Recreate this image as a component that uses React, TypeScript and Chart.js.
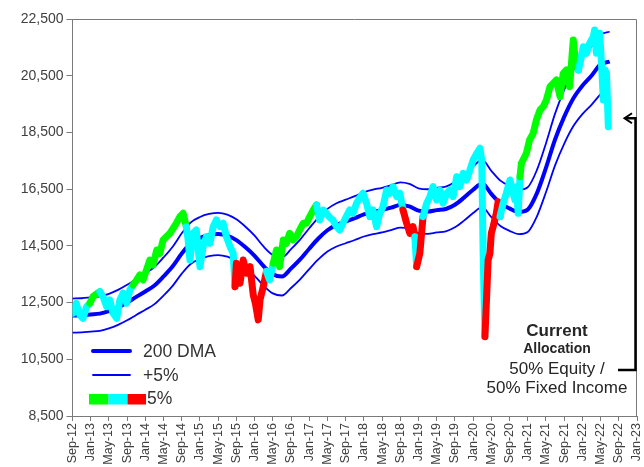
import React, { useEffect, useRef } from 'react';
import { Chart, registerables } from 'chart.js';

Chart.register(...registerables);

// ---- Data -----------------------------------------------------------------
// x values are months since Sep-2012
const xTickLabels = [
  'Sep-12', 'Jan-13', 'May-13', 'Sep-13', 'Jan-14', 'May-14', 'Sep-14', 'Jan-15',
  'May-15', 'Sep-15', 'Jan-16', 'May-16', 'Sep-16', 'Jan-17', 'May-17', 'Sep-17',
  'Jan-18', 'May-18', 'Sep-18', 'Jan-19', 'May-19', 'Sep-19', 'Jan-20', 'May-20',
  'Sep-20', 'Jan-21', 'May-21', 'Sep-21', 'Jan-22', 'May-22', 'Sep-22', 'Jan-23',
];

const bandMonths = [
  0, 2, 4, 6, 8, 10, 12, 14, 16, 18, 20, 22, 24, 26, 28, 30, 32, 34, 36, 38,
  40, 42, 44, 46, 48, 50, 52, 54, 56, 58, 60, 62, 64, 66, 68, 70, 72, 74, 76, 78,
  80, 82, 84, 86, 88, 90, 92, 94, 96, 98, 100, 102, 104, 106, 108, 110, 112, 114, 116, 118,
];

const dma200 = [
  12040, 12050, 12080, 12110, 12200, 12330, 12500, 12700, 12890, 13100,
  13420, 13780, 14230, 14600, 14780, 14880, 14920, 14860, 14700, 14450,
  14150, 13780, 13500, 13420, 13700, 14020, 14400, 14760, 15050, 15240,
  15360, 15480, 15610, 15700, 15760, 15850, 15940, 15890, 15740, 15710,
  15760, 15800, 15950, 16200, 16480, 16700, 16330, 16000, 15820, 15700,
  15780, 16350, 17250, 18250, 19050, 19700, 20150, 20500, 20900, 21000,
];

const upper5 = [
  12642, 12653, 12684, 12716, 12810, 12947, 13125, 13335, 13535, 13755,
  14091, 14469, 14942, 15330, 15519, 15624, 15666, 15603, 15435, 15173,
  14858, 14469, 14175, 14091, 14385, 14721, 15120, 15498, 15803, 16002,
  16128, 16254, 16391, 16485, 16548, 16643, 16737, 16685, 16527, 16496,
  16548, 16590, 16748, 17010, 17304, 17535, 17147, 16800, 16611, 16485,
  16569, 17168, 18113, 19163, 20003, 20685, 21158, 21525, 21945, 22050,
];

const lower5 = [
  11438, 11448, 11476, 11505, 11590, 11714, 11875, 12065, 12246, 12445,
  12749, 13091, 13519, 13870, 14041, 14136, 14174, 14117, 13965, 13728,
  13443, 13091, 12825, 12749, 13015, 13319, 13680, 14022, 14298, 14478,
  14592, 14706, 14830, 14915, 14972, 15058, 15143, 15096, 14953, 14925,
  14972, 15010, 15153, 15390, 15656, 15865, 15514, 15200, 15029, 14915,
  14991, 15533, 16388, 17338, 18098, 18715, 19143, 19475, 19855,
];

const priceMonths = [
  0.1, 0.8, 1.6, 2.3, 3.1, 3.8, 4.5, 6.0, 6.7, 7.5, 8.2, 8.9, 9.7, 10.4, 11.1, 11.9, 12.6, 13.3,
  14.1, 14.8, 15.5, 17.0, 17.7, 18.5, 19.2, 19.9, 21.4, 22.1, 22.8, 23.6, 24.3, 25.0,
  25.4, 25.8, 26.5, 27.2, 28.0, 28.7, 29.4, 30.2, 30.9, 31.6, 32.4, 33.1, 33.8, 34.6, 35.3, 35.7,
  36.0, 36.8, 37.5, 38.2, 39.0, 39.7, 40.2, 40.8, 41.2, 41.9, 42.6,
  43.3, 44.1,
  44.8, 45.5, 46.3, 47.0, 47.7, 48.5, 49.2, 49.9, 50.7, 51.4, 52.1, 52.9, 53.6,
  54.3, 55.1, 55.8, 56.5, 57.2, 58.0, 58.7, 59.4, 60.2, 60.9, 61.6, 62.4, 63.1, 63.8, 64.6,
  65.3, 66.0, 66.8, 67.5, 68.2, 69.0, 69.7, 70.4, 71.2, 71.9, 72.6,
  73.4, 74.1, 74.8, 75.2, 75.6, 76.3, 77.0,
  77.8, 78.5, 79.2, 80.0, 80.7, 81.4, 82.2, 82.9, 83.6, 84.4, 85.1, 85.8, 86.6, 87.3, 88.0,
  88.8, 89.5, 89.9, 90.2, 90.6,
  91.0, 91.3, 91.7, 92.0, 92.4, 93.1, 93.5, 93.9,
  94.6, 95.3, 96.1, 96.8, 97.2, 97.5, 97.9, 98.3,
  98.6, 99.7, 100.4, 101.2, 101.9, 102.7, 103.4, 104.1, 104.9, 105.6, 106.3, 107.1, 107.8,
  108.5, 109.2, 110.0, 110.3, 111.1,
  111.5, 112.2, 112.9, 113.6, 114.4, 114.7, 115.1, 115.8, 116.2, 116.6, 117.0, 117.3, 117.7,
];

const priceValues = [
  12123, 12475, 12063, 11946, 12356, 12475, 12709, 12885, 12709, 12356, 12592, 12123, 11946, 12592, 12828, 12475, 12945, 13121,
  13297, 13474, 13297, 14002, 13826, 14355, 14238, 14708, 14943, 15120, 15296, 15530, 15648, 15177,
  14708, 14002, 14943, 15060, 13767, 14472, 14824, 14591, 15177, 15413, 15177, 15296, 14824, 14472, 14238, 13061,
  13885, 13181, 14002, 13532, 13767, 12770, 12450, 11890, 12600, 13060, 13600,
  13297, 13885,
  14355, 13767, 14708, 14591, 14943, 14708, 14824, 15060, 15296, 15296, 15530, 15765, 15942,
  15413, 15765, 15648, 15500, 15413, 15177, 15060, 15296, 15550, 15765, 15648, 16001, 16200, 16354, 16001,
  15530, 15765, 15177, 15648, 15883, 16470, 16354, 16587, 16235, 16354, 15765,
  15296, 14943, 15177, 14824, 13767, 14238, 15530,
  16001, 16235, 16587, 16118, 16470, 16001, 16354, 16470, 16235, 16940, 16587, 17059, 16823, 17176, 17528,
  17764, 17941, 17528, 14238, 11298,
  12828, 14002, 14238, 14943, 15177, 15648, 16059, 15530,
  16001, 16354, 16823, 16354, 16118, 16587, 15648, 16940,
  17412, 17764, 18233, 18469, 18939, 19291, 19408, 19644, 20113, 20233, 20349, 19760, 20585,
  20702, 20113, 21760, 21290, 20702,
  20937, 21523, 21290, 21643, 21876, 22112, 21290, 21996, 20937, 19644, 20702, 20585, 18704,
];

// G = above band (green), C = neutral (cyan), R = below band (red)
const priceSignal = [
  'C', 'C', 'C', 'C', 'C', 'C', 'G', 'G', 'C', 'C', 'C', 'C', 'C', 'C', 'C', 'C', 'C', 'C',
  'G', 'G', 'G', 'G', 'G', 'G', 'G', 'G', 'G', 'G', 'G', 'G', 'G', 'G',
  'C', 'C', 'C', 'C', 'C', 'C', 'C', 'C', 'C', 'C', 'C', 'C', 'C', 'C', 'C', 'C',
  'R', 'R', 'R', 'R', 'R', 'R', 'R', 'R', 'R', 'R', 'R',
  'C', 'C',
  'G', 'G', 'G', 'G', 'G', 'G', 'G', 'G', 'G', 'G', 'G', 'G', 'G',
  'C', 'C', 'C', 'C', 'C', 'C', 'C', 'C', 'C', 'C', 'C', 'C', 'C', 'C', 'C',
  'C', 'C', 'C', 'C', 'C', 'C', 'C', 'C', 'C', 'C', 'C',
  'R', 'R', 'R', 'R', 'C', 'R', 'R',
  'C', 'C', 'C', 'C', 'C', 'C', 'C', 'C', 'C', 'C', 'C', 'C', 'C', 'C', 'C',
  'C', 'C', 'C', 'C', 'C',
  'R', 'R', 'R', 'R', 'R', 'R', 'R', 'R',
  'C', 'C', 'C', 'C', 'C', 'C', 'C', 'C',
  'G', 'G', 'G', 'G', 'G', 'G', 'G', 'G', 'G', 'G', 'G', 'G', 'G',
  'G', 'G', 'G', 'G', 'G',
  'C', 'C', 'C', 'C', 'C', 'C', 'C', 'C', 'C', 'C', 'C', 'C', 'C',
];

const legendLabels = ['200 DMA', '+5%', '5%'];
const allocationLines = ['Current', 'Allocation', '50% Equity /', '50% Fixed Income'];
const currentLevel = 19000;

// ---- Styles ---------------------------------------------------------------
const FONT = "'Liberation Sans', Arial, sans-serif";
const BLUE = '#0000FF';
const SIGNAL_COLORS: Record<string, string> = { G: '#00FF00', C: '#00FFFF', R: '#FF0000' };
const AXIS_COLOR = '#7a7a7a';
const TEXT_COLOR = '#404040';

const overlayPlugin = {
  id: 'overlay',
  afterDraw(chart: any) {
    const { ctx, chartArea } = chart;
    const yScale = chart.scales.y;
    ctx.save();

    // plot frame (top + right)
    ctx.strokeStyle = AXIS_COLOR;
    ctx.lineWidth = 1;
    ctx.beginPath();
    ctx.moveTo(chartArea.left, chartArea.top + 0.5);
    ctx.lineTo(chartArea.right - 0.5, chartArea.top + 0.5);
    ctx.lineTo(chartArea.right - 0.5, chartArea.bottom);
    ctx.stroke();

    // legend
    ctx.textBaseline = 'middle';
    ctx.textAlign = 'left';
    ctx.fillStyle = '#333333';
    ctx.font = `17.5px ${FONT}`;
    ctx.strokeStyle = BLUE;
    ctx.lineCap = 'round';
    ctx.lineWidth = 4;
    ctx.beginPath();
    ctx.moveTo(93, 351);
    ctx.lineTo(130, 351);
    ctx.stroke();
    ctx.fillText(legendLabels[0], 143, 352);
    ctx.lineWidth = 1.8;
    ctx.beginPath();
    ctx.moveTo(93, 375);
    ctx.lineTo(130, 375);
    ctx.stroke();
    ctx.fillText(legendLabels[1], 143, 376);
    ctx.fillStyle = SIGNAL_COLORS.G;
    ctx.fillRect(89, 394, 19.5, 10.5);
    ctx.fillStyle = SIGNAL_COLORS.C;
    ctx.fillRect(108.5, 394, 19, 10.5);
    ctx.fillStyle = SIGNAL_COLORS.R;
    ctx.fillRect(127.5, 394, 18.5, 10.5);
    ctx.fillStyle = '#333333';
    ctx.fillText(legendLabels[2], 147, 399.5);

    // allocation note
    const cx = 557;
    ctx.textAlign = 'center';
    ctx.fillStyle = '#262626';
    ctx.font = `bold 17px ${FONT}`;
    ctx.fillText(allocationLines[0], cx, 331);
    ctx.font = `bold 14px ${FONT}`;
    ctx.fillText(allocationLines[1], cx, 349.5);
    ctx.font = `17px ${FONT}`;
    ctx.fillText(allocationLines[2], cx, 369.5);
    ctx.fillText(allocationLines[3], cx, 388.5);

    // arrow pointing at current level
    const ay = yScale.getPixelForValue(currentLevel);
    const ax = chartArea.right - 1.5;
    ctx.strokeStyle = '#000000';
    ctx.lineWidth = 2.5;
    ctx.lineCap = 'butt';
    ctx.lineJoin = 'miter';
    ctx.beginPath();
    ctx.moveTo(618, 370);
    ctx.lineTo(ax, 370);
    ctx.lineTo(ax, ay);
    ctx.lineTo(ax - 10, ay);
    ctx.stroke();
    ctx.lineWidth = 2;
    ctx.beginPath();
    ctx.moveTo(ax - 3.5, ay - 5);
    ctx.lineTo(ax - 11, ay);
    ctx.lineTo(ax - 3.5, ay + 5);
    ctx.stroke();

    ctx.restore();
  },
};

export default function App() {
  const canvasRef = useRef<HTMLCanvasElement | null>(null);

  useEffect(() => {
    if (!canvasRef.current) return;
    const priceData = priceMonths.map((m, i) => ({ x: m, y: priceValues[i] }));
    const dmaData = bandMonths.map((m, i) => ({ x: m, y: dma200[i] }));
    const upperData = bandMonths.map((m, i) => ({ x: m, y: upper5[i] }));
    const lowerData = lower5.map((v, i) => ({ x: bandMonths[i], y: v }));

    const chart = new Chart(canvasRef.current, {
      type: 'line',
      data: {
        datasets: [
          {
            label: 'Price',
            data: priceData,
            borderColor: SIGNAL_COLORS.C,
            borderWidth: 7,
            borderCapStyle: 'round',
            borderJoinStyle: 'round',
            pointRadius: 0,
            tension: 0,
            segment: {
              borderColor: (c: any) => SIGNAL_COLORS[priceSignal[c.p1DataIndex]],
            },
          } as any,
          {
            label: '200 DMA',
            data: dmaData,
            borderColor: BLUE,
            borderWidth: 4,
            pointRadius: 0,
            cubicInterpolationMode: 'monotone',
          },
          {
            label: '+5%',
            data: upperData,
            borderColor: BLUE,
            borderWidth: 1.8,
            pointRadius: 0,
            cubicInterpolationMode: 'monotone',
          },
          {
            label: '-5%',
            data: lowerData,
            borderColor: BLUE,
            borderWidth: 1.8,
            pointRadius: 0,
            cubicInterpolationMode: 'monotone',
          },
        ],
      },
      options: {
        animation: false,
        responsive: true,
        maintainAspectRatio: false,
        layout: { padding: { top: 19, right: 7, left: 0, bottom: 0 } },
        plugins: {
          legend: { display: false },
          tooltip: { enabled: false },
          title: { display: false },
        },
        scales: {
          x: {
            type: 'linear',
            min: 0,
            max: 124,
            afterFit: (s: any) => {
              s.height = 51;
              s.paddingLeft = 0;
              s.paddingRight = 0;
            },
            ticks: {
              stepSize: 4,
              autoSkip: false,
              maxTicksLimit: 40,
              minRotation: 90,
              maxRotation: 90,
              padding: 2,
              color: TEXT_COLOR,
              font: { family: FONT, size: 12.5 },
              callback: (_v: any, i: number) => xTickLabels[i],
            },
            grid: { drawOnChartArea: false, drawTicks: true, tickLength: 5, color: AXIS_COLOR },
            border: { display: true, color: AXIS_COLOR, width: 1 },
          },
          y: {
            type: 'linear',
            min: 8500,
            max: 22500,
            afterFit: (s: any) => {
              s.width = 72.5;
              s.paddingTop = 0;
              s.paddingBottom = 0;
            },
            ticks: {
              stepSize: 2000,
              maxTicksLimit: 20,
              padding: 3,
              color: TEXT_COLOR,
              font: { family: FONT, size: 14 },
              callback: (v: any) => Number(v).toLocaleString('en-US'),
            },
            grid: { drawOnChartArea: false, drawTicks: true, tickLength: 6, color: AXIS_COLOR },
            border: { display: true, color: AXIS_COLOR, width: 1 },
          },
        },
      },
      plugins: [overlayPlugin],
    });

    return () => chart.destroy();
  }, []);

  return (
    <div style={{ position: 'fixed', left: 0, top: 0, width: 644, height: 467, background: '#fff' }}>
      <canvas ref={canvasRef} />
    </div>
  );
}
